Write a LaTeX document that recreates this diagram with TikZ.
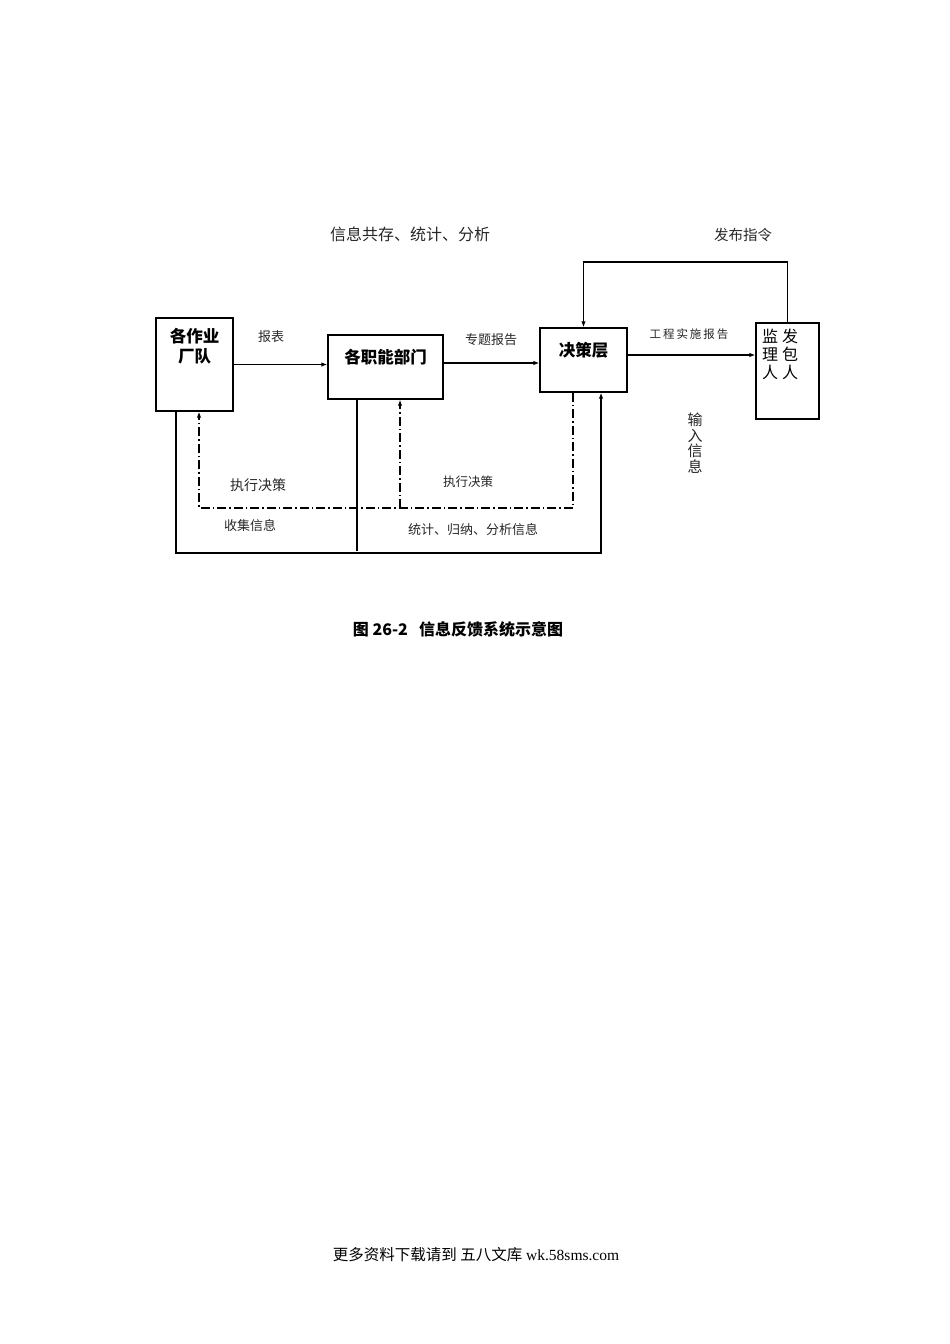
\documentclass[tikz,border=0pt]{standalone}
\usepackage{fontspec}
\setmainfont{Liberation Serif}
\newfontfamily\cjk{Noto Sans CJK SC}
\usetikzlibrary{arrows.meta,calc}
\tikzset{
  box/.style={draw, line width=1.3pt, rectangle, inner sep=0pt},
  conn/.style={line width=1.25pt},
  arr/.style={conn, -{Latex[length=6pt,width=4.5pt]}},
  dd/.style={dash pattern=on 9pt off 3pt on 1.5pt off 3pt},
  lbl/.style={font=\cjk\fontsize{13}{15}\selectfont, text=black!85, inner sep=0pt},
  btxt/.style={font=\cjk\bfseries\fontsize{16.5}{19.5}\selectfont, inner sep=0pt, align=center},
}
\begin{document}
\begin{tikzpicture}[x=1pt,y=-1pt]
\useasboundingbox (0,0) rectangle (950,1344);
% boxes
\node[box, minimum width=77pt, minimum height=93pt] (A) at (194.5,364.5) {};
\node[box, minimum width=115pt, minimum height=64pt] (B) at (385.5,367) {};
\node[box, minimum width=87pt, minimum height=64pt] (C) at (583.5,360) {};
\node[box, minimum width=63pt, minimum height=96pt] (D) at (787.5,371) {};
% box texts
\node[btxt] (At) at (194.5,346) {各作业\\厂队};
\node[btxt] (Bt) at (385.5,357) {各职能部门};
\node[btxt] (Ct) at (583.5,350) {决策层};
\node[font=\cjk\fontsize{16}{18}\selectfont, inner sep=0pt, align=center, anchor=north] (Dt1) at (770,329) {监\\理\\人};
\node[font=\cjk\fontsize{16}{18}\selectfont, inner sep=0pt, align=center, anchor=north] (Dt2) at (790,329) {发\\包\\人};
% main flow arrows
\coordinate (bc) at ($(B.east)+(0,-4)$);
\coordinate (cd) at ($(C.east)+(0,-5)$);
\draw[arr] (A.east) -- (A.east -| B.west);
\draw[arr] (bc) -- (bc -| C.west);
\draw[arr] (cd) -- (cd -| D.west);
% feedback from D
\coordinate (f1) at (788,262);
\draw[arr] (D.north) -- (D.north |- f1) -| (C.north);
% dash-dot execution lines
\coordinate (d1) at (573,508);
\coordinate (d2) at (199,508);
\coordinate (d3) at (400,508);
\draw[arr, dd] (C.south -| d1) -- (d1) -- (d2) -- (A.south -| d2);
\draw[arr, dd] (d3) -- (B.south -| d3);
% solid info collection lines
\coordinate (s1) at (176,553);
\coordinate (s2) at (601,553);
\coordinate (s3) at (357,551);
\draw[arr] (A.south -| s1) -- (s1) -- (s2) -- (C.south -| s2);
\draw[conn] (B.south -| s3) -- (s3);
% labels
\node[lbl, font=\cjk\fontsize{16}{18}\selectfont] (L1) at (410,234) {信息共存、统计、分析};
\node[lbl, font=\cjk\fontsize{14.5}{16}\selectfont] (L2) at (743,235) {发布指令};
\node[lbl] (L3) at (271,337) {报表};
\node[lbl] (L4) at (491,340) {专题报告};
\node[lbl, font=\cjk\fontsize{11.5}{13}\selectfont] (L5) at (689,334) {工\,程\,实\,施\,报\,告};
\node[lbl, font=\cjk\fontsize{15}{15.5}\selectfont, align=center, anchor=north] (L6) at (695,413) {输\\入\\信\\息};
\node[lbl, font=\cjk\fontsize{14}{16}\selectfont] (L7) at (258,485) {执行决策};
\node[lbl, font=\cjk\fontsize{12.5}{14}\selectfont] (L8) at (468,482) {执行决策};
\node[lbl] (L9) at (250,526) {收集信息};
\node[lbl] (L10) at (473,530) {统计、归纳、分析信息};
% caption
\node[font=\cjk\bfseries\fontsize{16}{18}\selectfont, inner sep=0pt] (cap) at (458,629) {图 26-2\hspace{0.7em}信息反馈系统示意图};
% footer
\node[font=\fontsize{15.5}{18}\selectfont, inner sep=0pt] (foot) at (476,1255) {{\cjk 更多资料下载请到 五八文库} wk.58sms.com};
\end{tikzpicture}
\end{document}
